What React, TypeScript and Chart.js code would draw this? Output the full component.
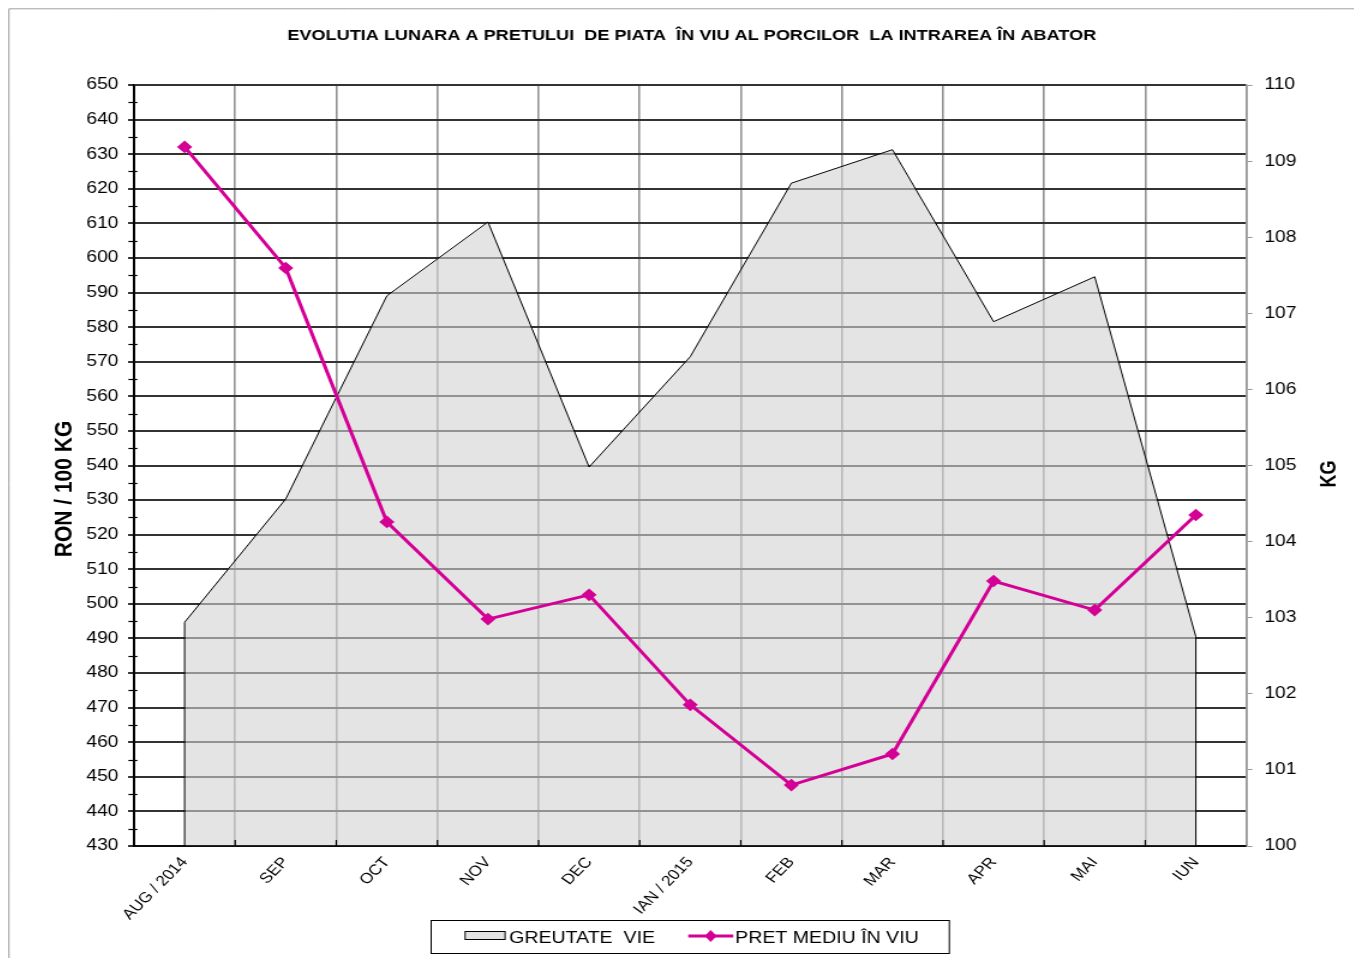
import React, { useEffect, useRef } from 'react';
import { Chart, registerables } from 'chart.js';

Chart.register(...registerables);

// ---- data ----
const categories = ['AUG / 2014', 'SEP', 'OCT', 'NOV', 'DEC', 'IAN / 2015', 'FEB', 'MAR', 'APR', 'MAI', 'IUN'];
const priceValues = [632.1, 597.1, 523.7, 495.6, 502.6, 470.8, 447.6, 456.6, 506.6, 498.2, 525.7];
const weightValues = [102.94, 104.56, 107.23, 108.2, 104.98, 106.43, 108.71, 109.15, 106.89, 107.48, 102.75];
const leftAxis = { min: 430, max: 650, step: 10 };
const rightAxis = { min: 100, max: 110, step: 1 };

const titleText = 'EVOLUTIA LUNARA A PRETULUI  DE PIATA  ÎN VIU AL PORCILOR  LA INTRAREA ÎN ABATOR';
const leftTitle = 'RON / 100 KG';
const rightTitle = 'KG';
const areaLabel = 'GREUTATE  VIE';
const lineLabel = 'PRET MEDIU ÎN VIU';

// ---- look ----
const W = 1128;
const H = 950;
const SX = 1354 / W;
const FONT = '"Liberation Sans", Arial, Helvetica, sans-serif';
const PINK = '#d40096';
const AREA_FILL = 'rgba(210,210,210,0.6)';

const decorPlugin: any = {
  id: 'decor',
  afterDatasetDraw(chart: any, args: any) {
    if (args.index !== 1) return;
    const { ctx, chartArea: a, scales } = chart;
    const pts = chart.getDatasetMeta(1).data;
    ctx.save();
    ctx.strokeStyle = '#000';
    ctx.lineWidth = 1;
    [pts[0], pts[pts.length - 1]].forEach((p: any) => {
      ctx.beginPath();
      ctx.moveTo(p.x, p.y);
      ctx.lineTo(p.x, a.bottom);
      ctx.stroke();
    });
    // axis lines
    ctx.lineWidth = 1.7;
    ctx.beginPath();
    ctx.moveTo(a.left, a.bottom);
    ctx.lineTo(a.right, a.bottom);
    ctx.moveTo(a.left, a.top);
    ctx.lineTo(a.left, a.bottom);
    ctx.stroke();
    // minor ticks on left axis
    ctx.lineWidth = 1.2;
    const y = scales.y;
    for (let v = leftAxis.min + leftAxis.step / 2; v < leftAxis.max; v += leftAxis.step) {
      const py = Math.round(y.getPixelForValue(v)) + 0.5;
      ctx.beginPath();
      ctx.moveTo(a.left - 4.7, py);
      ctx.lineTo(a.left + 2.8, py);
      ctx.stroke();
    }
    // x ticks at category boundaries
    const x = scales.x;
    for (let i = 1; i < categories.length; i++) {
      const px = (x.getPixelForValue(i - 1) + x.getPixelForValue(i)) / 2;
      ctx.beginPath();
      ctx.moveTo(px, a.bottom - 6);
      ctx.lineTo(px, a.bottom);
      ctx.stroke();
    }
    ctx.restore();
  },
  afterDraw(chart: any) {
    const { ctx } = chart;
    ctx.save();
    // outer frame
    ctx.strokeStyle = '#a0a0a0';
    ctx.lineWidth = 1;
    ctx.beginPath();
    ctx.moveTo(0.8, H);
    ctx.lineTo(0.8, 0.8);
    ctx.lineTo(W, 0.8);
    ctx.stroke();

    // title
    ctx.fillStyle = '#000';
    ctx.textAlign = 'center';
    ctx.textBaseline = 'alphabetic';
    ctx.font = `bold 15.1px ${FONT}`;
    ctx.fillText(titleText, 569.6, 31.7);

    // axis titles
    ctx.textBaseline = 'middle';
    ctx.font = `bold 21px ${FONT}`;
    ctx.save();
    ctx.translate(47, 481);
    ctx.rotate(-Math.PI / 2);
    ctx.fillText(leftTitle, 0, 0);
    ctx.restore();
    ctx.font = `bold 18px ${FONT}`;
    ctx.save();
    ctx.translate(1101, 466);
    ctx.rotate(-Math.PI / 2);
    ctx.fillText(rightTitle, 0, 0);
    ctx.restore();

    // legend
    const lx = 352.5, ly = 912.5, lw = 431.7, lh = 33;
    ctx.fillStyle = '#fff';
    ctx.fillRect(lx, ly, lw, lh);
    ctx.strokeStyle = '#000';
    ctx.lineWidth = 1;
    ctx.strokeRect(lx, ly, lw, lh);
    ctx.fillStyle = '#e3e3e3';
    ctx.fillRect(380.8, 923.5, 33.3, 8);
    ctx.strokeRect(380.8, 923.5, 33.3, 8);
    ctx.fillStyle = '#000';
    ctx.font = `16.3px ${FONT}`;
    ctx.textAlign = 'left';
    ctx.textBaseline = 'alphabetic';
    ctx.fillText(areaLabel, 417.5, 934.5);
    ctx.strokeStyle = PINK;
    ctx.lineWidth = 3;
    ctx.beginPath();
    ctx.moveTo(566.7, 928);
    ctx.lineTo(604.2, 928);
    ctx.stroke();
    ctx.fillStyle = PINK;
    ctx.beginPath();
    ctx.moveTo(585.4, 922);
    ctx.lineTo(590.4, 928);
    ctx.lineTo(585.4, 934);
    ctx.lineTo(580.4, 928);
    ctx.closePath();
    ctx.fill();
    ctx.fillStyle = '#000';
    ctx.fillText(lineLabel, 605.8, 934.5);
    ctx.restore();
  },
};

export default function App() {
  const ref = useRef<HTMLCanvasElement | null>(null);

  useEffect(() => {
    if (!ref.current) return;
    const chart = new Chart(ref.current, {
      type: 'line',
      data: {
        labels: categories,
        datasets: [
          {
            label: lineLabel,
            data: priceValues,
            yAxisID: 'y',
            borderColor: PINK,
            backgroundColor: PINK,
            borderWidth: 3,
            pointStyle: 'rectRot',
            pointRadius: 6.3,
            pointBackgroundColor: PINK,
            pointBorderColor: PINK,
            pointBorderWidth: 0,
            tension: 0,
            fill: false,
            order: 1,
          },
          {
            label: areaLabel,
            data: weightValues,
            yAxisID: 'y1',
            borderColor: '#000',
            borderWidth: 1,
            backgroundColor: AREA_FILL,
            pointRadius: 0,
            tension: 0,
            fill: 'start',
            order: 2,
          },
        ],
      },
      options: {
        responsive: false,
        animation: false,
        devicePixelRatio: 1,
        layout: { padding: { top: 77, left: 0, right: 0, bottom: 0 } },
        plugins: {
          legend: { display: false },
          title: { display: false },
          tooltip: { enabled: false },
        },
        scales: {
          x: {
            type: 'category',
            offset: true,
            grid: { offset: true, color: '#939393', lineWidth: 1.6, drawTicks: false },
            border: { display: false },
            ticks: {
              font: { family: FONT, size: 14.5 },
              color: '#000',
              minRotation: 50,
              maxRotation: 50,
              padding: 8,
              autoSkip: false,
            },
            afterFit: (s: any) => {
              s.height = 112;
              s.paddingLeft = 0;
              s.paddingRight = 0;
            },
          },
          y: {
            position: 'left',
            min: leftAxis.min,
            max: leftAxis.max,
            ticks: { stepSize: leftAxis.step, font: { family: FONT, size: 16 }, color: '#000', padding: 8 },
            grid: { color: '#333', lineWidth: 2, tickLength: 5 },
            border: { color: '#000', width: 1.7 },
            afterFit: (s: any) => {
              s.width = 105;
            },
          },
          y1: {
            position: 'right',
            min: rightAxis.min,
            max: rightAxis.max,
            ticks: { stepSize: rightAxis.step, font: { family: FONT, size: 16 }, color: '#000', padding: 10 },
            grid: { drawOnChartArea: false, color: '#999', lineWidth: 1, tickLength: 5 },
            border: { color: '#999', width: 1.5 },
            afterFit: (s: any) => {
              s.width = W - 1031.7;
            },
          },
        },
      },
      plugins: [decorPlugin],
    } as any);
    return () => chart.destroy();
  }, []);

  return (
    <div style={{ width: 1354, height: H, overflow: 'visible' }}>
      <div style={{ width: W, height: H, transform: `scaleX(${SX})`, transformOrigin: '0 0' }}>
        <canvas ref={ref} width={W} height={H} style={{ display: 'block', width: W, height: H }} />
      </div>
    </div>
  );
}
